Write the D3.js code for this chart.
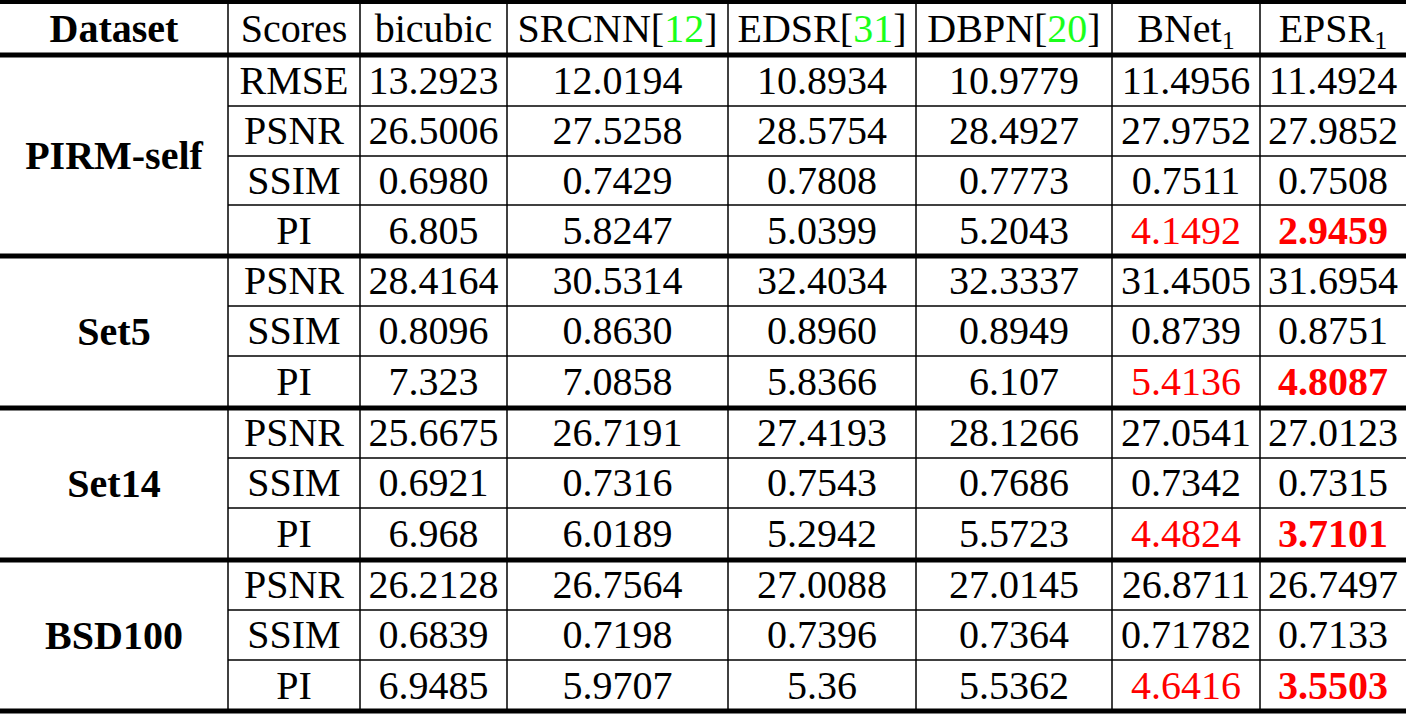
<!DOCTYPE html>
<html><head><meta charset="utf-8">
<script src="https://cdn.jsdelivr.net/npm/d3@7"></script>
<style>body{margin:0;background:#fff}</style></head>
<body><svg id="c" width="1406" height="715"></svg>
<script>
const headers = [["Dataset"],["Scores"],["bicubic"],["SRCNN","12"],["EDSR","31"],["DBPN","20"],["BNet","sub"],["EPSR","sub"]];
const datasets = [["PIRM-self",4],["Set5",3],["Set14",3],["BSD100",3]];
const scores = ["RMSE","PSNR","SSIM","PI","PSNR","SSIM","PI","PSNR","SSIM","PI","PSNR","SSIM","PI"];
const bicubic = ["13.2923","26.5006","0.6980","6.805","28.4164","0.8096","7.323","25.6675","0.6921","6.968","26.2128","0.6839","6.9485"];
const srcnn = ["12.0194","27.5258","0.7429","5.8247","30.5314","0.8630","7.0858","26.7191","0.7316","6.0189","26.7564","0.7198","5.9707"];
const edsr = ["10.8934","28.5754","0.7808","5.0399","32.4034","0.8960","5.8366","27.4193","0.7543","5.2942","27.0088","0.7396","5.36"];
const dbpn = ["10.9779","28.4927","0.7773","5.2043","32.3337","0.8949","6.107","28.1266","0.7686","5.5723","27.0145","0.7364","5.5362"];
const bnet = ["11.4956","27.9752","0.7511","4.1492","31.4505","0.8739","5.4136","27.0541","0.7342","4.4824","26.8711","0.71782","4.6416"];
const epsr = ["11.4924","27.9852","0.7508","2.9459","31.6954","0.8751","4.8087","27.0123","0.7315","3.7101","26.7497","0.7133","3.5503"];

const colB = [0,228,360,507,728,916,1112,1260,1406];
const rowB = [2,55,106,156,205,256,306,356,408,458,508,560,610,660,711];
const x = d3.scaleLinear().domain(d3.range(colB.length)).range(colB);
const y = d3.scaleLinear().domain(d3.range(rowB.length)).range(rowB);
const svg = d3.select("#c");
const F = "'Liberation Serif', serif";
const cols = [scores,bicubic,srcnn,edsr,dbpn,bnet,epsr];
const g = svg.append("g");

// header
headers.forEach((h,i)=>{
  const t = g.append("text").attr("x",(x(i)+x(i+1))/2).attr("y",(y(0)+y(1))/2+13)
    .attr("text-anchor","middle").attr("font-family",F).attr("font-size",40)
    .attr("font-weight", i===0?"bold":"normal").text(h[0]);
  if(h[1]==="sub") t.append("tspan").attr("font-size",26).attr("dy",7).text("1");
  else if(h[1]){ t.append("tspan").text("[");
    t.append("tspan").attr("fill","#1bff1b").text(h[1]); t.append("tspan").text("]"); }
});
// data cells
cols.forEach((arr,ci)=>{
  arr.forEach((v,ri)=>{
    const isPI = scores[ri]==="PI";
    const red = isPI && ci>=5;
    g.append("text").attr("x",(x(ci+1)+x(ci+2))/2).attr("y",(y(ri+1)+y(ri+2))/2+13)
      .attr("text-anchor","middle").attr("font-family",F).attr("font-size",40)
      .attr("fill",red?"#ff0000":"#000").attr("font-weight",red&&ci===6?"bold":"normal").text(v);
  });
});
// dataset labels and lines
let r=1;
const thick=[0,1];
datasets.forEach(([n,k])=>{
  g.append("text").attr("x",(x(0)+x(1))/2).attr("y",(y(r)+y(r+k))/2+13)
    .attr("text-anchor","middle").attr("font-family",F).attr("font-size",40).attr("font-weight","bold").text(n);
  for(let j=1;j<k;j++) g.append("line").attr("x1",x(1)).attr("x2",x(8)).attr("y1",y(r+j)).attr("y2",y(r+j)).attr("stroke","#000").attr("stroke-width",1.5);
  r+=k; thick.push(r);
});
thick.forEach(i=>g.append("line").attr("x1",0).attr("x2",1406).attr("y1",y(i)).attr("y2",y(i)).attr("stroke","#000").attr("stroke-width",i===0?4:5));
for(let c=1;c<8;c++) g.append("line").attr("x1",x(c)).attr("x2",x(c)).attr("y1",y(0)).attr("y2",y(14)).attr("stroke","#000").attr("stroke-width",1.5);
</script></body></html>
